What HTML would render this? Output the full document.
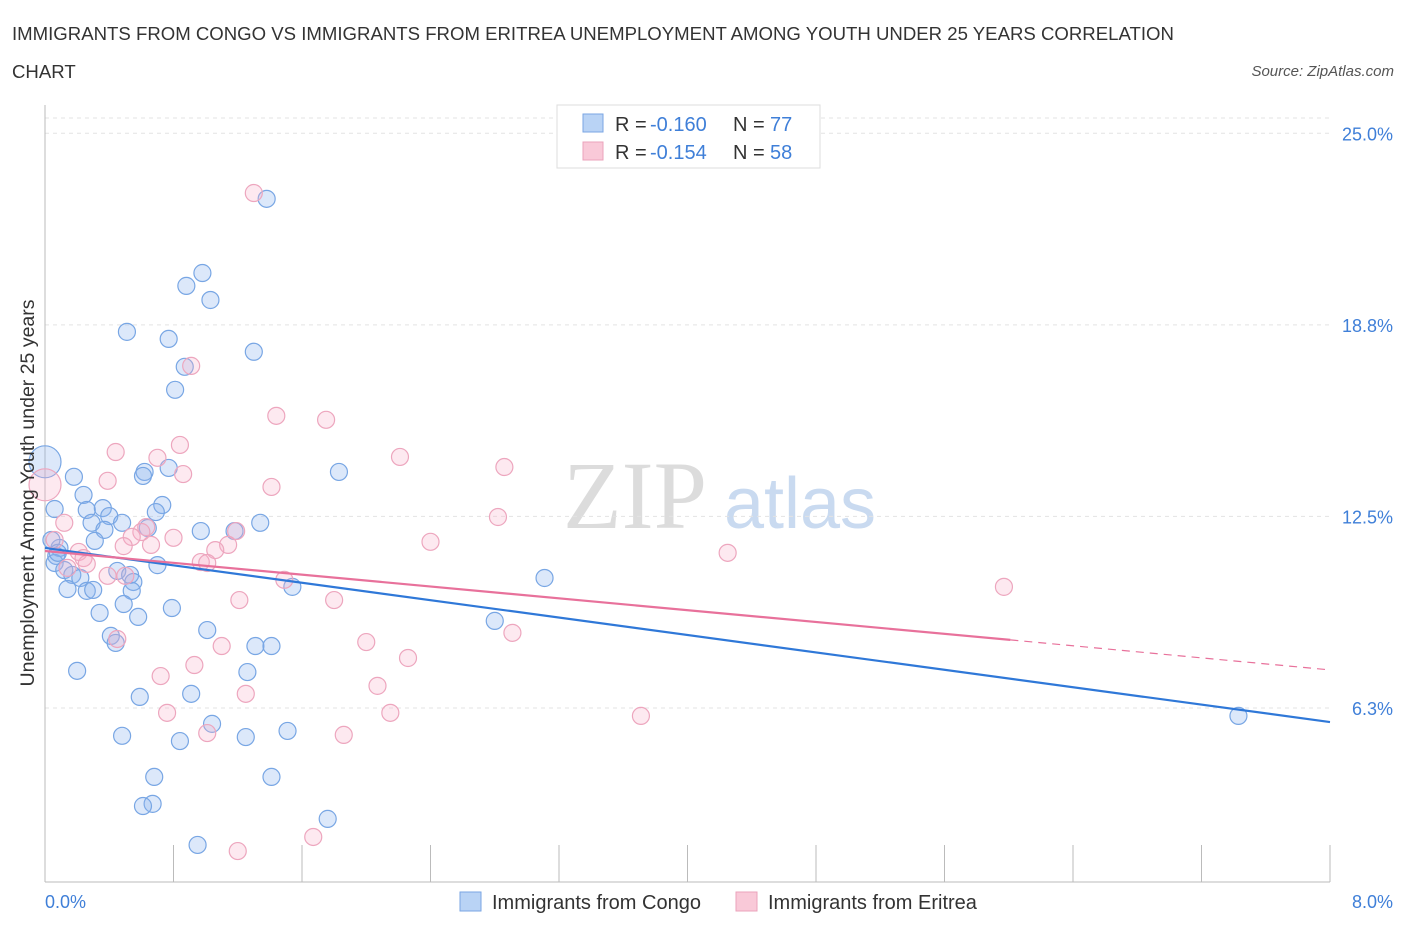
<!DOCTYPE html>
<html><head><meta charset="utf-8"><style>
body{margin:0;background:#fff;font-family:"Liberation Sans",sans-serif;}
#c{position:relative;width:1406px;height:930px;overflow:hidden;}
</style></head><body>
<div id="c">
<svg id="s" width="1406" height="930" xmlns="http://www.w3.org/2000/svg">
<text x="12" y="40" font-size="18.6" fill="#333">IMMIGRANTS FROM CONGO VS IMMIGRANTS FROM ERITREA UNEMPLOYMENT AMONG YOUTH UNDER 25 YEARS CORRELATION</text>
<text x="12" y="78" font-size="18.6" fill="#333">CHART</text>
<text x="1394" y="76" font-size="15" fill="#555" font-style="italic" text-anchor="end">Source: ZipAtlas.com</text>
<text x="635" y="528" font-size="96" fill="#dcdcdc" font-family="Liberation Serif,serif" text-anchor="middle">ZIP</text>
<text x="800" y="528" font-size="72" fill="#c9daf0" text-anchor="middle">atlas</text>
<g id="grid"></g>
<g id="axes"></g>
<g id="pts"></g>
<g id="lines"></g>
<text x="34" y="493" font-size="19.5" fill="#333" text-anchor="middle" transform="rotate(-90 34 493)">Unemployment Among Youth under 25 years</text>
<text x="45" y="908" font-size="18" fill="#3f7fd8">0.0%</text>
<text x="1393" y="908" font-size="18" fill="#3f7fd8" text-anchor="end">8.0%</text>
<g>
<rect x="557" y="105" width="263" height="63" fill="#fff" stroke="#ddd"/>
<rect x="583" y="114" width="20" height="18" fill="#b9d3f5" stroke="#7aa6e3"/>
<rect x="583" y="142" width="20" height="18" fill="#f9c9d8" stroke="#eba3bb"/>
<text x="615" y="131" font-size="20" fill="#333">R =</text>
<text x="650" y="131" font-size="20" fill="#3f7fd8">-0.160</text>
<text x="733" y="131" font-size="20" fill="#333">N =</text>
<text x="770" y="131" font-size="20" fill="#3f7fd8">77</text>
<text x="615" y="159" font-size="20" fill="#333">R =</text>
<text x="650" y="159" font-size="20" fill="#3f7fd8">-0.154</text>
<text x="733" y="159" font-size="20" fill="#333">N =</text>
<text x="770" y="159" font-size="20" fill="#3f7fd8">58</text>
</g>
<g>
<rect x="460" y="892" width="21" height="19" fill="#b9d3f5" stroke="#7aa6e3"/>
<text x="492" y="909" font-size="20" fill="#333">Immigrants from Congo</text>
<rect x="736" y="892" width="21" height="19" fill="#f9c9d8" stroke="#eba3bb"/>
<text x="768" y="909" font-size="20" fill="#333">Immigrants from Eritrea</text>
</g>
</svg>
</div>
<script>
const yTicks=[25,18.75,12.5,6.25];
const yTickLabels=["25.0%","18.8%","12.5%","6.3%"];
const xTicks=[0,0.8,1.6,2.4,3.2,4,4.8,5.6,6.4,7.2,8];
const congoX=[1.38,0.98,0.88,1.03,0.51,0.77,1.30,0.87,0.81,1.83,0.62,0.77,0.61,0.18,0.24,0.73,0.26,0.36,0.40,0.29,0.48,0.69,0.64,1.18,1.34,0.97,0.37,0.31,0.06,0.09,0.07,0.06,0.12,0.17,0.22,0.45,0.53,0.70,0.55,0.14,0.26,0.54,0.30,3.11,1.54,0.49,0.34,0.79,0.58,1.01,0.41,0.44,1.31,1.41,2.80,0.20,1.26,0.59,0.91,1.04,0.48,0.84,1.25,1.51,0.68,1.41,0.67,0.61,1.76,0.95,7.43,0.00,0.04,0.08];
const congoY=[22.86,20.44,20.02,19.56,18.52,18.29,17.87,17.38,16.63,13.95,13.95,14.08,13.82,13.79,13.20,12.87,12.71,12.77,12.51,12.29,12.29,12.64,12.12,12.02,12.29,12.02,12.06,11.70,12.74,11.47,11.21,10.98,10.75,10.59,10.49,10.72,10.59,10.91,10.36,10.13,10.07,10.07,10.10,10.49,10.20,9.64,9.35,9.51,9.22,8.79,8.60,8.37,8.27,8.27,9.09,7.46,7.42,6.61,6.71,5.73,5.34,5.17,5.30,5.50,4.00,4.00,3.12,3.05,2.63,1.78,5.99,14.28,11.73,11.31];
const eritreaX=[1.30,0.91,1.44,1.75,0.44,0.84,0.70,2.21,2.86,0.39,0.86,1.41,2.82,0.12,0.63,0.60,0.80,0.54,0.66,0.49,1.19,1.14,1.06,2.40,4.25,0.21,0.24,0.14,0.26,0.97,1.01,0.39,0.50,1.49,5.97,1.21,1.80,2.91,0.45,1.10,2.00,2.26,0.72,0.93,2.07,1.25,0.76,2.15,3.71,1.01,1.86,1.67,1.20,0.00,0.06];
const eritreaY=[23.05,17.41,15.78,15.65,14.60,14.83,14.41,14.44,14.11,13.66,13.88,13.46,12.48,12.29,12.15,11.99,11.80,11.83,11.57,11.53,12.02,11.57,11.40,11.67,11.31,11.34,11.14,10.82,10.95,11.01,10.98,10.56,10.56,10.43,10.20,9.77,9.77,8.70,8.50,8.27,8.40,7.88,7.29,7.65,6.97,6.71,6.09,6.09,5.99,5.43,5.37,2.04,1.58,13.53,11.73];
const congoTrend=[11.47,5.79];
const eritreaTrend=[11.37,8.47,7.49];
const xs=v=>45+v/8*1285;
const ys=v=>899.5-v*30.65;
const NS="http://www.w3.org/2000/svg";
function mk(tag,attrs,parent){const e=document.createElementNS(NS,tag);for(const k in attrs)e.setAttribute(k,attrs[k]);parent.appendChild(e);return e;}
const grid=document.getElementById('grid'),axes=document.getElementById('axes'),pts=document.getElementById('pts'),lines=document.getElementById('lines');
let gl=mk('line',{x1:45,x2:1330,y1:118,y2:118,stroke:'#e3e3e3','stroke-dasharray':'4,4'},grid);


yTicks.forEach((t,i)=>{
 const l=mk('line',{x1:45,x2:1330,y1:ys(t),y2:ys(t),stroke:'#e3e3e3','stroke-dasharray':'4,4'},grid);
 
 
 const tx=mk('text',{x:1393,y:ys(t)+7,'font-size':18,fill:'#3f7fd8','text-anchor':'end'},axes);
 tx.textContent=yTickLabels[i];
 
 
});
const ax=mk('line',{x1:45,x2:1330,y1:882,y2:882,stroke:'#bbb'},axes);


const ay=mk('line',{x1:45,x2:45,y1:105,y2:882,stroke:'#bbb'},axes);


xTicks.forEach(t=>{
 const l=mk('line',{x1:xs(t),x2:xs(t),y1:845,y2:882,stroke:'#bbb'},axes);
 
 
});
function dots(X,Y,fill,stroke,name){
 X.forEach((x,i)=>{
  const big=(x===0);
  const c=mk('circle',{cx:xs(x),cy:ys(Y[i]),r:big?16:8.5,fill:fill,stroke:stroke,'stroke-width':1.2},pts);
  
  
 });
}
dots(congoX,congoY,'rgba(140,180,240,0.3)','#78a6e4','congo-point');
dots(eritreaX,eritreaY,'rgba(248,175,200,0.28)','#eda6be','eritrea-point');
const lb=mk('line',{x1:xs(0),y1:ys(congoTrend[0]),x2:xs(8),y2:ys(congoTrend[1]),stroke:'#2f78d8','stroke-width':2.2},lines);


const lp=mk('line',{x1:xs(0),y1:ys(eritreaTrend[0]),x2:xs(6.01),y2:ys(eritreaTrend[1]),stroke:'#e8719b','stroke-width':2.2},lines);


const lpd=mk('line',{x1:xs(6.01),y1:ys(eritreaTrend[1]),x2:xs(8),y2:ys(eritreaTrend[2]),stroke:'#e8719b','stroke-width':1.2,'stroke-dasharray':'8,6'},lines);


</script>
</body></html>
